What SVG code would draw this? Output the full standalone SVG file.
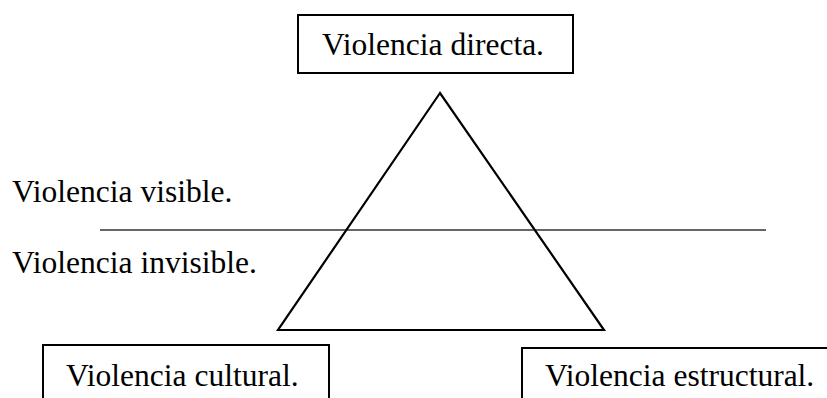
<svg xmlns="http://www.w3.org/2000/svg" width="827" height="398" viewBox="0 0 827 398">
<style>
.box{fill:#fff;stroke:#000;stroke-width:2}
.t{font-family:"Liberation Serif","Times New Roman",serif;font-size:31.5px;fill:#000}
</style>
<rect width="827" height="398" fill="#fff"/>
<g id="connectors">
<line x1="100" y1="230" x2="766" y2="230" stroke="#333" stroke-width="1.5"/>
</g>
<g id="triangle">
<polygon points="440,93 278,330 604,330" fill="none" stroke="#000" stroke-width="2.2" stroke-linejoin="miter"/>
</g>
<g id="directa">
<rect class="box" x="298" y="15" width="275" height="58"/>
<text class="t" x="322" y="55">Violencia directa.</text>
</g>
<g id="visible">
<text class="t" x="12" y="202">Violencia visible.</text>
</g>
<g id="invisible">
<text class="t" x="12" y="273">Violencia invisible.</text>
</g>
<g id="cultural">
<rect class="box" x="43" y="345" width="286" height="70"/>
<text class="t" x="66" y="386">Violencia cultural.</text>
</g>
<g id="estructural">
<rect class="box" x="522" y="348" width="320" height="70"/>
<text class="t" x="545" y="386">Violencia estructural.</text>
</g>
</svg>
